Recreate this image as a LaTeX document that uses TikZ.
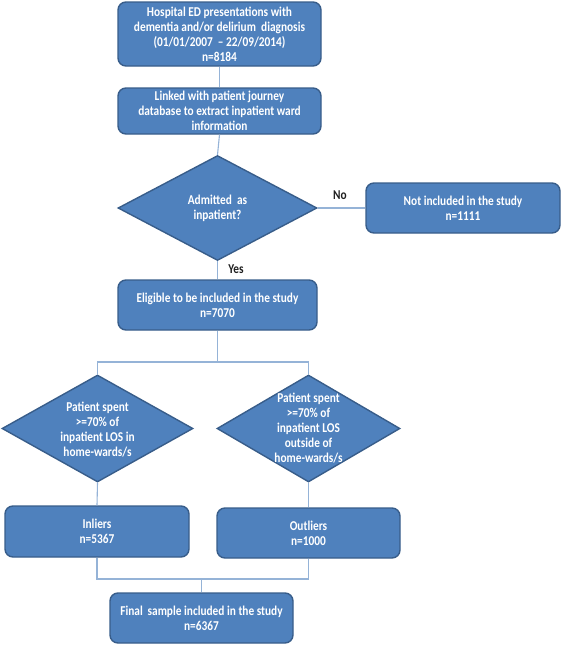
\documentclass[tikz,border=0pt]{standalone}
\usepackage{fontspec}
\setmainfont{Carlito}[FakeStretch=0.84,BoldFont={Carlito Bold},BoldFeatures={FakeStretch=0.84}]
\usetikzlibrary{shapes.geometric}
\definecolor{boxfill}{HTML}{4F81BD}
\definecolor{boxline}{HTML}{385D8A}
\definecolor{conn}{RGB}{149,179,215}
\definecolor{lbl}{HTML}{1F1F1F}
\tikzset{
  txt/.style={font=\fontsize{13.5}{15}\selectfont\bfseries, text=white, align=center},
  flowbox/.style={draw=boxline, line width=1.4pt, fill=boxfill, rounded corners=8pt, inner sep=0pt, txt},
  decision/.style={diamond, draw=boxline, line width=1.4pt, fill=boxfill, inner sep=0pt},
  connector/.style={draw=conn, line width=1.1pt},
  answer/.style={font=\fontsize{13.5}{15}\selectfont\bfseries, text=lbl}
}
\begin{document}
\begin{tikzpicture}[x=1pt,y=-1pt]
\useasboundingbox (0,0) rectangle (567,646);
% boxes
\node[flowbox, minimum width=203, minimum height=64] (b1) at (219.5,34)
  {Hospital ED presentations with\\dementia and/or delirium\ \ diagnosis\\(01/01/2007\ \ -- 22/09/2014)\\n=8184};
\node[flowbox, minimum width=203, minimum height=46] (b2) at (219.5,111)
  {Linked with patient journey\\database to extract inpatient ward\\information};
\node[decision, minimum width=199, minimum height=105] (d1) at (217.5,208) {};
\node[txt] (d1t) at (d1.center) {Admitted\ \ as\\inpatient?};
\node[flowbox, minimum width=194, minimum height=50] (b3) at (463,208)
  {Not included in the study\\n=1111};
\node[flowbox, minimum width=199, minimum height=50] (b4) at (217.5,305)
  {Eligible\ to be included in the study\\n=7070};
\node[decision, minimum width=191, minimum height=107] (d2) at (97.5,428.5) {};
\node[txt] (d2t) at ([yshift=-1]d2.center) {Patient spent\\>=70\% of\\inpatient LOS in\\home-wards/s};
\node[decision, minimum width=183, minimum height=107] (d3) at (308.5,428.5) {};
\node[txt] (d3t) at (d3.center) {Patient spent\\>=70\%\ of\\inpatient LOS\\outside of\\home-wards/s};
\node[flowbox, minimum width=184, minimum height=51] (b5) at (97,531.5)
  {Inliers\\n=5367};
\node[flowbox, minimum width=183, minimum height=50] (b6) at (308.5,533)
  {Outliers\\n=1000};
\node[flowbox, minimum width=183, minimum height=50] (b7) at (201.5,618)
  {Final\ \,sample included in the study\\n=6367};
% junctions
\coordinate (j1) at (217.5,362);
\coordinate (j2) at (201.5,579);
% connectors
\path[connector] (b1.south) -- (b2.north);
\path[connector] (b2.south) -- (d1.north);
\path[connector] (d1.east) -- (b3.west);
\path[connector] (d1.south) -- (b4.north);
\path[connector] (b4.south) -- (j1);
\path[connector] (d2.north) |- (j1) -| (d3.north);
\path[connector] (d2.south) -- (b5.north);
\path[connector] (d3.south) -- (b6.north);
\path[connector] (b5.south) |- (j2) -| (b6.south);
\path[connector] (j2) -- (b7.north);
% labels
\node[answer] (no) at (340,195) {No};
\node[answer] (yes) at (236,269) {Yes};
\end{tikzpicture}
\end{document}
